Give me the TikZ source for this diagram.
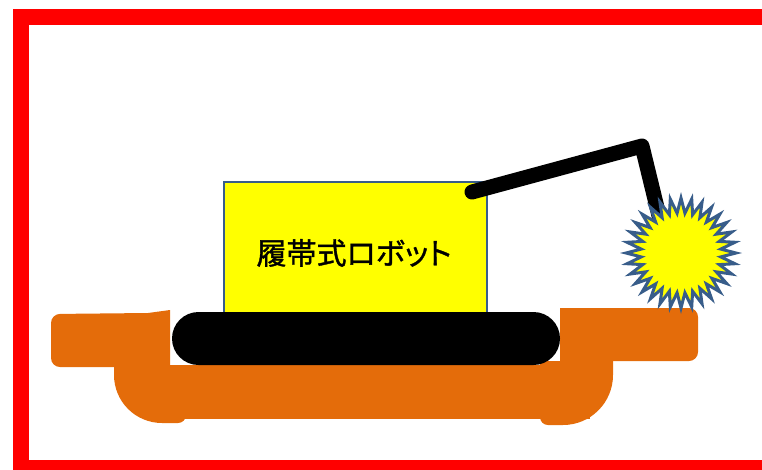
\documentclass[tikz,border=0pt]{standalone}
\usepackage{fontspec}
\newfontfamily\jpfont[RawFeature=+palt, BoldFont={Noto Sans CJK JP}, BoldFeatures={FakeBold=1.2}]{Noto Sans CJK JP}
\definecolor{groundorange}{RGB}{228,108,10}
\definecolor{edgeblue}{RGB}{56,93,138}
\definecolor{bodyyellow}{RGB}{255,255,0}
\begin{document}
\begin{tikzpicture}[x=1pt,y=-1pt,
  ground/.style={fill=groundorange},
  bodybox/.style={draw=edgeblue, line width=2pt, fill=bodyyellow, inner sep=0pt},
  armline/.style={line width=15pt, line cap=round, line join=round},
  frameline/.style={draw=red, line width=16pt}]
\useasboundingbox (0,0) rectangle (762,469);
\clip (0,0) rectangle (762,469);

% outer frame
\draw[frameline] (21,17) rectangle (800,468);

% ground: left ledge, pit and right ledge
\fill[ground] (170,310) -- (148,313) [rounded corners=9pt] -- (51,314) -- (51,367) [sharp corners] -- (170,367) -- cycle;
\fill[ground] (560,308) [rounded corners=9pt] -- (698,308) -- (698,361) [sharp corners] -- (560,361) -- cycle;
\fill[ground] (150,365) rectangle (590,419);
\fill[ground] (114,365) [rounded corners=48pt] -- (114,423) [rounded corners=8pt] -- (186,423) [sharp corners] -- (186,365) -- cycle;
\fill[ground] (613,361) [rounded corners=50pt] -- (613,425) [rounded corners=8pt] -- (540,425) [sharp corners] -- (540,361) -- cycle;

% robot body
\node[bodybox, minimum width=263pt, minimum height=133pt] (body) at (355.5,248.5) {};
\node[font=\jpfont\bfseries\fontsize{30pt}{30pt}\selectfont, inner sep=0pt] (name) at (354,253) {履帯式ロボット};

% crawler track
\fill[black, rounded corners=26.5pt] (172,312) rectangle (560,365);

% arm
\coordinate (shoulder) at (472,192);
\coordinate (elbow) at (642,146);
\coordinate (wrist) at (662,228);
\draw[armline] (shoulder) -- (elbow) -- (wrist);

% spark at the arm tip: a 32-point star
\coordinate (spark) at (681,253);
\filldraw[fill=bodyyellow, draw=edgeblue, line width=3pt, line join=miter]
  plot[samples=65, domain=0:64, variable=\k]
  ({681 + (47.5 + 7.5*cos(180*\k))*cos(90 + 5.625*\k)},
   {253 + (47.5 + 7.5*cos(180*\k))*sin(90 + 5.625*\k)}) -- cycle;
\end{tikzpicture}
\end{document}
